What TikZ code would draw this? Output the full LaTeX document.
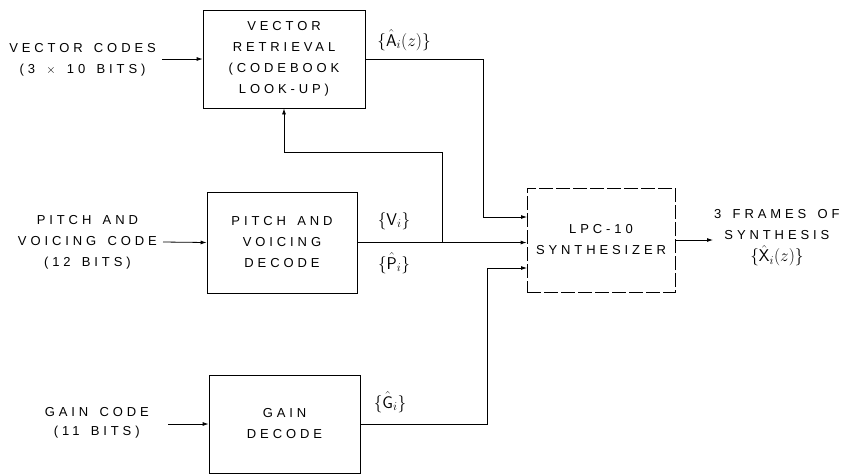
\documentclass[tikz,border=0pt]{standalone}
\usepackage{amsmath}
\usepackage{fontspec}
\usepackage{tikz}
\usetikzlibrary{arrows.meta,positioning}
\newfontfamily\blockfont[LetterSpace=30,WordSpace=1.5]{Liberation Sans}

\tikzset{
  blk/.style={draw,thick,minimum width=#1,align=center,inner sep=2pt},
  lab/.style={align=center,inner sep=1pt,font=\blockfont\fontsize{13}{21}\selectfont},
  sig/.style={inner sep=0pt,font=\fontsize{17}{19}\selectfont},
  arr/.style={thick,-{Latex[length=6pt,width=4pt]}},
  ln/.style={thick}
}

\begin{document}
\begin{tikzpicture}[x=1pt,y=-1pt,font=\blockfont\fontsize{13}{21}\selectfont]
\useasboundingbox (0,0) rectangle (858,475);
% blocks
\node[blk=162pt,minimum height=98pt] (vq) at (284,59) {VECTOR\\RETRIEVAL\\(CODEBOOK\\LOOK-UP)};
\node[blk=150pt,minimum height=101pt] (pv) at (282,242.5) {PITCH AND\\VOICING\\DECODE};
\node[blk=151pt,minimum height=98pt] (gd) at (284.5,424) {GAIN\\DECODE};
\node[blk=148pt,minimum height=104pt,dash pattern=on 14pt off 3pt] (syn) at (601,240) {LPC-10\\SYNTHESIZER};
% inputs
\node[lab,anchor=east] (vin) at (157,60) {VECTOR CODES\\(3 $\times$ 10 BITS)};
\node[lab,anchor=east] (pin) at (158,242) {PITCH AND\\VOICING CODE\\(12 BITS)};
\node[lab,anchor=east,font=\blockfont\fontsize{13}{19}\selectfont] (gin) at (150,423) {GAIN CODE\\(11 BITS)};
\node[lab,anchor=west] (out) at (713,238) {3 FRAMES OF\\SYNTHESIS\\[1pt]{\fontsize{17}{19}\selectfont$\{\hat{\mathsf{X}}_i(z)\}$}};
\draw[arr] (vin.east |- vq.west) ++(5,0) -- (vq.west);
\draw[arr] (pin.east) ++(5,0) -- (pv.west);
\draw[arr] (gin.east |- gd.west) ++(18,0) -- (gd.west);
\draw[arr] (syn.east) -- (out.west |- syn.east);
% connections to synthesizer
\coordinate (in1) at (527,217);
\coordinate (in3) at (527,268);
\coordinate (j) at (442,242);
\coordinate (fb) at (284,152);
\draw[arr] (vq.east) -| (483,217) -- (in1);
\draw[arr] (pv.east) -- (pv.east -| syn.west);
\draw[arr] (j) |- (fb) -- (vq.south);
\draw[arr] (gd.east) -| (487,268) -- (in3);
% signal labels
\node[sig] (la) at (404,40) {$\{\hat{\mathsf{A}}_i(z)\}$};
\node[sig] (lv) at (394,221) {$\{\mathsf{V}_i\}$};
\node[sig] (lp) at (394,263) {$\{\hat{\mathsf{P}}_i\}$};
\node[sig] (lg) at (390,402) {$\{\hat{\mathsf{G}}_i\}$};
\end{tikzpicture}
\end{document}
